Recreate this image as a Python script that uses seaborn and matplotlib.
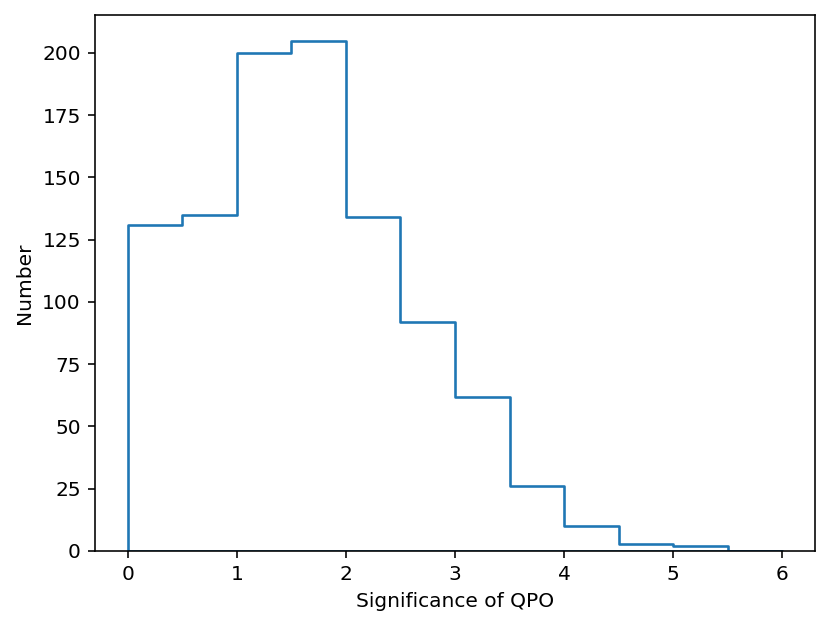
import numpy as np
import pandas as pd
from matplotlib import pyplot as plt
import seaborn as sns

# histogram of QPO significance
bin_edges = [0.0, 0.5, 1.0, 1.5, 2.0, 2.5, 3.0, 3.5, 4.0, 4.5, 5.0, 5.5, 6.0]
counts = [131, 135, 200, 205, 134, 92, 62, 26, 10, 3, 2, 0]

centers = [(a + b) / 2 for a, b in zip(bin_edges[:-1], bin_edges[1:])]
df = pd.DataFrame({'significance': centers, 'number': counts})

dpi = 145
fig, ax = plt.subplots(1, 1, figsize=(831 / dpi, 628 / dpi), dpi=dpi)
fig.subplots_adjust(left=95 / 831, right=815 / 831, top=1 - 15 / 628, bottom=1 - 551 / 628)

sns.histplot(data=df, x='significance', weights='number', bins=bin_edges,
             element='step', fill=True, color='C0', facecolor='none',
             edgecolor='C0', linewidth=1.3, ax=ax)

ax.set_xlabel('Significance of QPO')
ax.set_ylabel('Number')

fig.savefig('out.png', dpi=dpi)
